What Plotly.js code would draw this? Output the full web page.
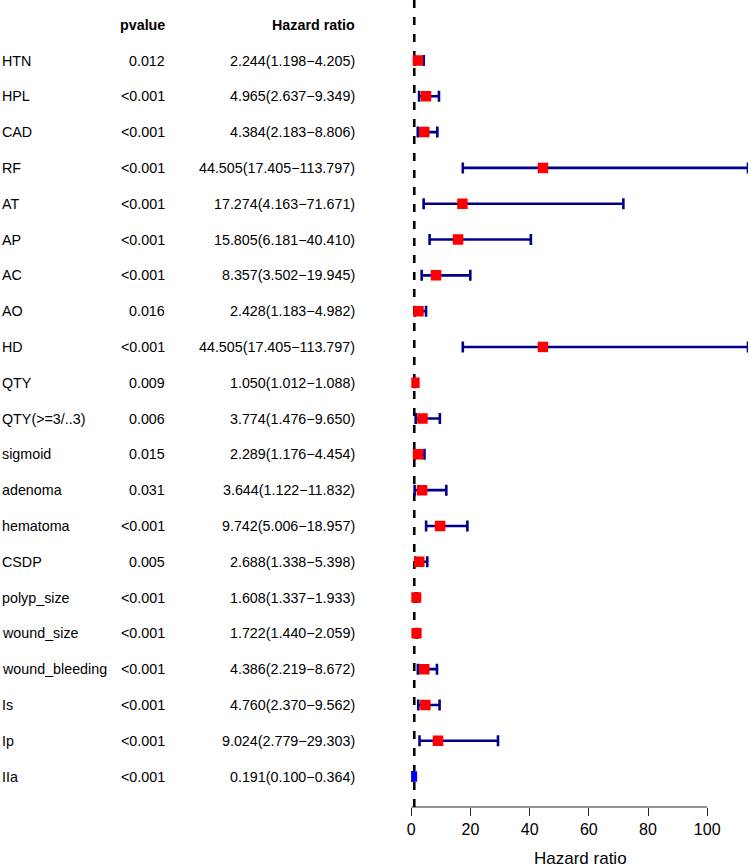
<!DOCTYPE html>
<html>
<head>
<meta charset="utf-8">
<script src="https://cdn.plot.ly/plotly-3.0.1.min.js"></script>
<style>html,body{margin:0;padding:0;background:#fff;}#chart{width:751px;height:867px;}</style>
</head>
<body>
<div id="chart"></div>
<script>
const variables = ["HTN","HPL","CAD","RF","AT","AP","AC","AO","HD","QTY","QTY(>=3/..3)","sigmoid","adenoma","hematoma","CSDP","polyp_size","wound_size","wound_bleeding","Is","Ip","IIa"];
const pvalues = ["0.012","<0.001","<0.001","<0.001","<0.001","<0.001","<0.001","0.016","<0.001","0.009","0.006","0.015","0.031","<0.001","0.005","<0.001","<0.001","<0.001","<0.001","<0.001","<0.001"];
const hr = [2.244,4.965,4.384,44.505,17.274,15.805,8.357,2.428,44.505,1.050,3.774,2.289,3.644,9.742,2.688,1.608,1.722,4.386,4.760,9.024,0.191];
const hrLow = [1.198,2.637,2.183,17.405,4.163,6.181,3.502,1.183,17.405,1.012,1.476,1.176,1.122,5.006,1.338,1.337,1.440,2.219,2.370,2.779,0.100];
const hrHigh = [4.205,9.349,8.806,113.797,71.671,40.410,19.945,4.982,113.797,1.088,9.650,4.454,11.832,18.957,5.398,1.933,2.059,8.672,9.562,29.303,0.364];
const xTicks = [0,20,40,60,80,100];

const fmt = v => v.toFixed(3);
const rows = variables.map((_, i) => i + 1);
const hrText = hr.map((v, i) => fmt(v) + "(" + fmt(hrLow[i]) + "\u2212" + fmt(hrHigh[i]) + ")");
const colors = hr.map(v => v < 1 ? "#0000FF" : "#FF0000");
const xMax = Math.max(...hrHigh);

const W = 751, H = 867;
const font = "Liberation Sans, Arial, sans-serif";

const trace = {
  type: "scatter",
  mode: "markers",
  x: hr,
  y: rows,
  marker: {symbol: "square", size: 10.5, color: colors, line: {width: 0}},
  error_x: {
    type: "data",
    symmetric: false,
    array: hr.map((v, i) => hrHigh[i] - v),
    arrayminus: hr.map((v, i) => v - hrLow[i]),
    color: "#00008B",
    thickness: 2.6,
    width: 5.5
  },
  hoverinfo: "skip",
  showlegend: false
};

const annotations = [];
const tf = {family: font, size: 14.3, color: "#000"};
const hf = {family: font, size: 14.3, color: "#000", weight: "bold"};
const pX = 167 / W, hX = 356.5 / W;
annotations.push({xref: "paper", yref: "y", x: pX, y: 0, text: "<b>pvalue</b>", xanchor: "right", yanchor: "middle", showarrow: false, font: hf});
annotations.push({xref: "paper", yref: "y", x: hX, y: 0, text: "<b>Hazard ratio</b>", xanchor: "right", yanchor: "middle", showarrow: false, font: hf});
variables.forEach((v, i) => {
  annotations.push({xref: "paper", yref: "y", x: 0, y: rows[i], text: v, xanchor: "left", yanchor: "middle", showarrow: false, font: tf});
  annotations.push({xref: "paper", yref: "y", x: pX, y: rows[i], text: pvalues[i].replace("<", "&lt;"), xanchor: "right", yanchor: "middle", showarrow: false, font: tf});
  annotations.push({xref: "paper", yref: "y", x: hX, y: rows[i], text: hrText[i], xanchor: "right", yanchor: "middle", showarrow: false, font: tf});
});
annotations.push({xref: "paper", yref: "paper", x: 580 / W, y: -(859 - 807) / 807, text: "Hazard ratio", xanchor: "center", yanchor: "middle", showarrow: false, font: {family: font, size: 17, color: "#000"}});

const layout = {
  width: W, height: H,
  margin: {l: 0, r: 0, t: 0, b: 60, pad: 0},
  paper_bgcolor: "#fff",
  plot_bgcolor: "#fff",
  font: {family: font, color: "#000"},
  xaxis: {
    domain: [411.3 / W, 748 / W],
    range: [0, xMax],
    showgrid: false, zeroline: false, showline: false,
    tickmode: "array", tickvals: xTicks, ticktext: xTicks.map(String),
    ticks: "outside", ticklen: 8, tickwidth: 1, tickcolor: "#222",
    ticklabelstandoff: 0,
    tickfont: {family: font, size: 16, color: "#000"},
    automargin: false,
    fixedrange: true
  },
  yaxis: {
    range: [21.85, -0.69],
    visible: false,
    showgrid: false, zeroline: false,
    automargin: false,
    fixedrange: true
  },
  shapes: [
    {type: "line", xref: "x", yref: "paper", x0: 1, x1: 1, y0: 0, y1: 1, line: {color: "#000", width: 2.6, dash: "8px,9px"}, layer: "below"},
    {type: "line", xref: "x", yref: "paper", x0: xTicks[0], x1: xTicks[xTicks.length - 1], y0: 0, y1: 0, line: {color: "#222", width: 1}}
  ],
  annotations: annotations
};

Plotly.newPlot("chart", [trace], layout, {staticPlot: true, displayModeBar: false});
</script>
</body>
</html>
